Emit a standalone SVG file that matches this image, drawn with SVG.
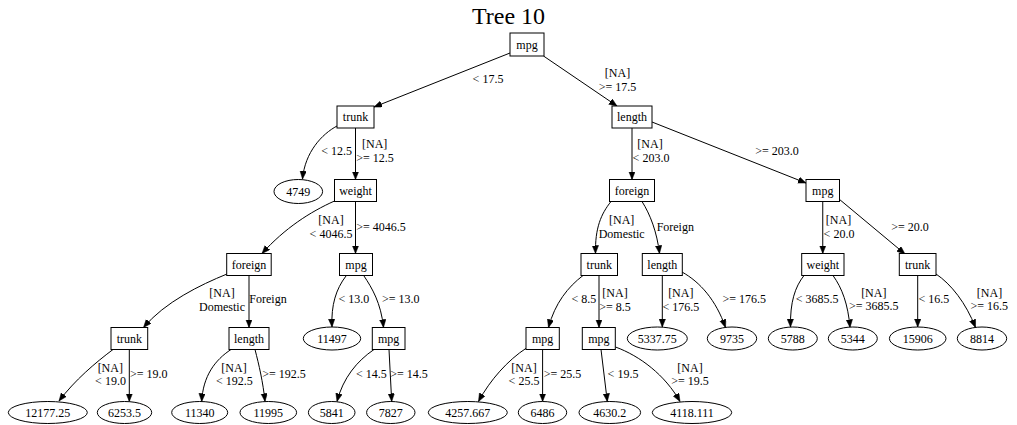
<svg xmlns="http://www.w3.org/2000/svg" width="1017" height="425" viewBox="0 0 1017 425">
<style>
text{font-family:"Liberation Serif","Times New Roman",serif;font-size:12px;fill:#000;text-anchor:middle}
.title{font-size:24px}
.box{fill:#fff;stroke:#000;stroke-width:1}
.leaf{fill:#fff;stroke:#000;stroke-width:1}
.edge{fill:none;stroke:#000;stroke-width:1;marker-end:url(#arr)}
</style>
<defs>
<marker id="arr" markerUnits="userSpaceOnUse" markerWidth="9" markerHeight="7" refX="8" refY="3.2" orient="auto">
<path d="M0,0 L8,3.2 L0,6.4 z" fill="#000" stroke="#000" stroke-width="0.5"/>
</marker>
</defs>
<rect width="1017" height="425" fill="#fff"/>
<text class="title" x="508.5" y="24">Tree 10</text>

<g id="connectors">
<path class="edge" d="M510,53 L374,107"/>
<path class="edge" d="M543.5,56 L617,106"/>
<path class="edge" d="M337,126 C322,134 305,152 302.5,179"/>
<path class="edge" d="M355.5,128 L355.5,179.5"/>
<path class="edge" d="M334.5,201 C310,212 285,228 262,253.5"/>
<path class="edge" d="M355.5,201.5 L355.5,253.5"/>
<path class="edge" d="M227,274 C200,285 165,302 143.5,327.5"/>
<path class="edge" d="M249,275.5 L249,327.5"/>
<path class="edge" d="M346,276 C336,289 331,305 332,327"/>
<path class="edge" d="M364,276 C372,288 381,303 383.5,327.5"/>
<path class="edge" d="M113,349.5 C95,363 75,380 59,401"/>
<path class="edge" d="M129.3,349.5 L129.3,401.5"/>
<path class="edge" d="M231,349.5 C215,360 203,376 201.7,401.5"/>
<path class="edge" d="M255,349.5 C259,365 263,382 265,401.5"/>
<path class="edge" d="M374,349.5 C357,361 343,378 337,401.5"/>
<path class="edge" d="M389,349.5 L391.7,401.5"/>
<path class="edge" d="M632,128 L632,179.5"/>
<path class="edge" d="M652,122 L806,183"/>
<path class="edge" d="M611,201.5 C601,214 595,228 595.5,253.5"/>
<path class="edge" d="M642,201.5 C650,214 657,232 659.5,253.5"/>
<path class="edge" d="M583,275.5 C568,287 555,303 548.5,327.5"/>
<path class="edge" d="M599,275.5 L599,327.5"/>
<path class="edge" d="M662.3,275.5 L662.3,327"/>
<path class="edge" d="M682,272 C700,282 716,300 725.5,327.5"/>
<path class="edge" d="M822.75,201.5 L822.75,253.5"/>
<path class="edge" d="M839,199 L905,254"/>
<path class="edge" d="M804,275.5 C795,287 790,302 790.5,327"/>
<path class="edge" d="M833,275.5 C842,288 848,304 850,327.5"/>
<path class="edge" d="M917.7,275.5 L917.7,327"/>
<path class="edge" d="M936,274 C951,284 966,303 975.5,327.5"/>
<path class="edge" d="M526.5,348 C508,360 490,380 478.5,401.5"/>
<path class="edge" d="M542.6,349.5 L542.6,401.5"/>
<path class="edge" d="M601,349.5 L607.3,401.5"/>
<path class="edge" d="M615.5,347 C640,356 665,375 680,401.5"/>
</g>

<g id="edge-labels">
<text x="488" y="83">&lt; 17.5</text>
<text x="617.5" y="77">[NA]</text><text x="617.5" y="90.5">&gt;= 17.5</text>
<text x="336.7" y="155">&lt; 12.5</text>
<text x="374.7" y="148.3">[NA]</text><text x="375" y="161.6">&gt;= 12.5</text>
<text x="777" y="155">&gt;= 203.0</text>
<text x="650" y="148.3">[NA]</text><text x="651" y="161.6">&lt; 203.0</text>
<text x="331" y="224.3">[NA]</text><text x="331" y="237.6">&lt; 4046.5</text>
<text x="381" y="230.7">&gt;= 4046.5</text>
<text x="621.7" y="224.3">[NA]</text><text x="621.7" y="237.6">Domestic</text>
<text x="675.3" y="230.7">Foreign</text>
<text x="838.5" y="224.3">[NA]</text><text x="839" y="237.6">&lt; 20.0</text>
<text x="910" y="230.7">&gt;= 20.0</text>
<text x="222" y="297.3">[NA]</text><text x="222" y="310.6">Domestic</text>
<text x="268" y="303.3">Foreign</text>
<text x="353.8" y="303.3">&lt; 13.0</text>
<text x="400.8" y="303.3">&gt;= 13.0</text>
<text x="583.8" y="303.3">&lt; 8.5</text>
<text x="615" y="297.3">[NA]</text><text x="615" y="310.6">&gt;= 8.5</text>
<text x="680.8" y="297.3">[NA]</text><text x="680.8" y="310.6">&lt; 176.5</text>
<text x="744.2" y="303.3">&gt;= 176.5</text>
<text x="817.2" y="303.3">&lt; 3685.5</text>
<text x="873.8" y="297">[NA]</text><text x="873.8" y="310.3">&gt;= 3685.5</text>
<text x="933.8" y="303.3">&lt; 16.5</text>
<text x="989.5" y="297">[NA]</text><text x="989.2" y="310.3">&gt;= 16.5</text>
<text x="110.3" y="371.7">[NA]</text><text x="110.5" y="385">&lt; 19.0</text>
<text x="148.7" y="378.3">&gt;= 19.0</text>
<text x="234" y="371.7">[NA]</text><text x="234.3" y="385">&lt; 192.5</text>
<text x="284" y="378.3">&gt;= 192.5</text>
<text x="371.3" y="378.3">&lt; 14.5</text>
<text x="409" y="378.3">&gt;= 14.5</text>
<text x="524" y="371.7">[NA]</text><text x="524" y="385">&lt; 25.5</text>
<text x="562.5" y="378.3">&gt;= 25.5</text>
<text x="623" y="378.3">&lt; 19.5</text>
<text x="690" y="371.7">[NA]</text><text x="690" y="385">&gt;= 19.5</text>
</g>

<g id="n-root"><rect class="box" x="510" y="33" width="34" height="23"/><text x="527" y="48.5">mpg</text></g>
<g id="n-trunk1"><rect class="box" x="337" y="106" width="37" height="22"/><text x="355.5" y="121">trunk</text></g>
<g id="n-length1"><rect class="box" x="612" y="106" width="40" height="22"/><text x="632" y="121">length</text></g>
<g id="n-4749"><ellipse class="leaf" cx="298.3" cy="191.5" rx="24.3" ry="12"/><text x="298.3" y="195.5">4749</text></g>
<g id="n-weight1"><rect class="box" x="334.5" y="179.5" width="42" height="22"/><text x="355.5" y="194.5">weight</text></g>
<g id="n-foreign1"><rect class="box" x="609.5" y="179.5" width="45" height="22"/><text x="632" y="194.5">foreign</text></g>
<g id="n-mpg2"><rect class="box" x="806" y="179.5" width="33.5" height="22"/><text x="822.75" y="194.5">mpg</text></g>
<g id="n-foreign2"><rect class="box" x="226.7" y="253.5" width="44.5" height="22"/><text x="249" y="268.5">foreign</text></g>
<g id="n-mpg3"><rect class="box" x="339.5" y="253.5" width="33" height="22"/><text x="356" y="268.5">mpg</text></g>
<g id="n-trunk3"><rect class="box" x="581" y="253.5" width="36.5" height="22"/><text x="599.25" y="268.5">trunk</text></g>
<g id="n-length3"><rect class="box" x="642.3" y="253.5" width="40" height="22"/><text x="662.3" y="268.5">length</text></g>
<g id="n-weight4"><rect class="box" x="801.7" y="253.5" width="42.3" height="22"/><text x="822.85" y="268.5">weight</text></g>
<g id="n-trunk4"><rect class="box" x="899.3" y="253.5" width="36.7" height="22"/><text x="917.65" y="268.5">trunk</text></g>
<g id="n-trunk5"><rect class="box" x="111" y="327.5" width="36.7" height="22"/><text x="129.35" y="342.5">trunk</text></g>
<g id="n-length5"><rect class="box" x="229" y="327.5" width="40" height="22"/><text x="249" y="342.5">length</text></g>
<g id="n-11497"><ellipse class="leaf" cx="332" cy="338.5" rx="28.7" ry="11.5"/><text x="332" y="342.5">11497</text></g>
<g id="n-mpg5"><rect class="box" x="372.3" y="327.5" width="32.7" height="22"/><text x="388.65" y="342.5">mpg</text></g>
<g id="n-mpg6"><rect class="box" x="526" y="327.5" width="33.3" height="22"/><text x="542.65" y="342.5">mpg</text></g>
<g id="n-mpg7"><rect class="box" x="582.3" y="327.5" width="33" height="22"/><text x="598.8" y="342.5">mpg</text></g>
<g id="n-5337"><ellipse class="leaf" cx="657.3" cy="338.5" rx="30" ry="11.5"/><text x="657.3" y="342.5">5337.75</text></g>
<g id="n-9735"><ellipse class="leaf" cx="732" cy="338.5" rx="24.7" ry="11.5"/><text x="732" y="342.5">9735</text></g>
<g id="n-5788"><ellipse class="leaf" cx="792.8" cy="338.5" rx="24.5" ry="11.5"/><text x="792.8" y="342.5">5788</text></g>
<g id="n-5344"><ellipse class="leaf" cx="852.8" cy="338.5" rx="24.5" ry="11.5"/><text x="852.8" y="342.5">5344</text></g>
<g id="n-15906"><ellipse class="leaf" cx="917.7" cy="338.5" rx="28.3" ry="11.5"/><text x="917.7" y="342.5">15906</text></g>
<g id="n-8814"><ellipse class="leaf" cx="982" cy="338.5" rx="24.7" ry="11.5"/><text x="982" y="342.5">8814</text></g>
<g id="n-12177"><ellipse class="leaf" cx="47.8" cy="412.5" rx="39.5" ry="11"/><text x="47.8" y="416.5">12177.25</text></g>
<g id="n-6253"><ellipse class="leaf" cx="124.5" cy="412.5" rx="27.2" ry="11"/><text x="124.5" y="416.5">6253.5</text></g>
<g id="n-11340"><ellipse class="leaf" cx="199.7" cy="412.5" rx="28" ry="11"/><text x="199.7" y="416.5">11340</text></g>
<g id="n-11995"><ellipse class="leaf" cx="268.3" cy="412.5" rx="28.3" ry="11"/><text x="268.3" y="416.5">11995</text></g>
<g id="n-5841"><ellipse class="leaf" cx="331.7" cy="412.5" rx="23.3" ry="11"/><text x="331.7" y="416.5">5841</text></g>
<g id="n-7827"><ellipse class="leaf" cx="390.8" cy="412.5" rx="24.2" ry="11"/><text x="390.8" y="416.5">7827</text></g>
<g id="n-4257"><ellipse class="leaf" cx="467.8" cy="412.5" rx="39.5" ry="11"/><text x="467.8" y="416.5">4257.667</text></g>
<g id="n-6486"><ellipse class="leaf" cx="542.5" cy="412.5" rx="24.2" ry="11"/><text x="542.5" y="416.5">6486</text></g>
<g id="n-4630"><ellipse class="leaf" cx="609.8" cy="412.5" rx="30.8" ry="11"/><text x="609.8" y="416.5">4630.2</text></g>
<g id="n-4118"><ellipse class="leaf" cx="692" cy="412.5" rx="39.7" ry="11"/><text x="692" y="416.5">4118.111</text></g>
</svg>
